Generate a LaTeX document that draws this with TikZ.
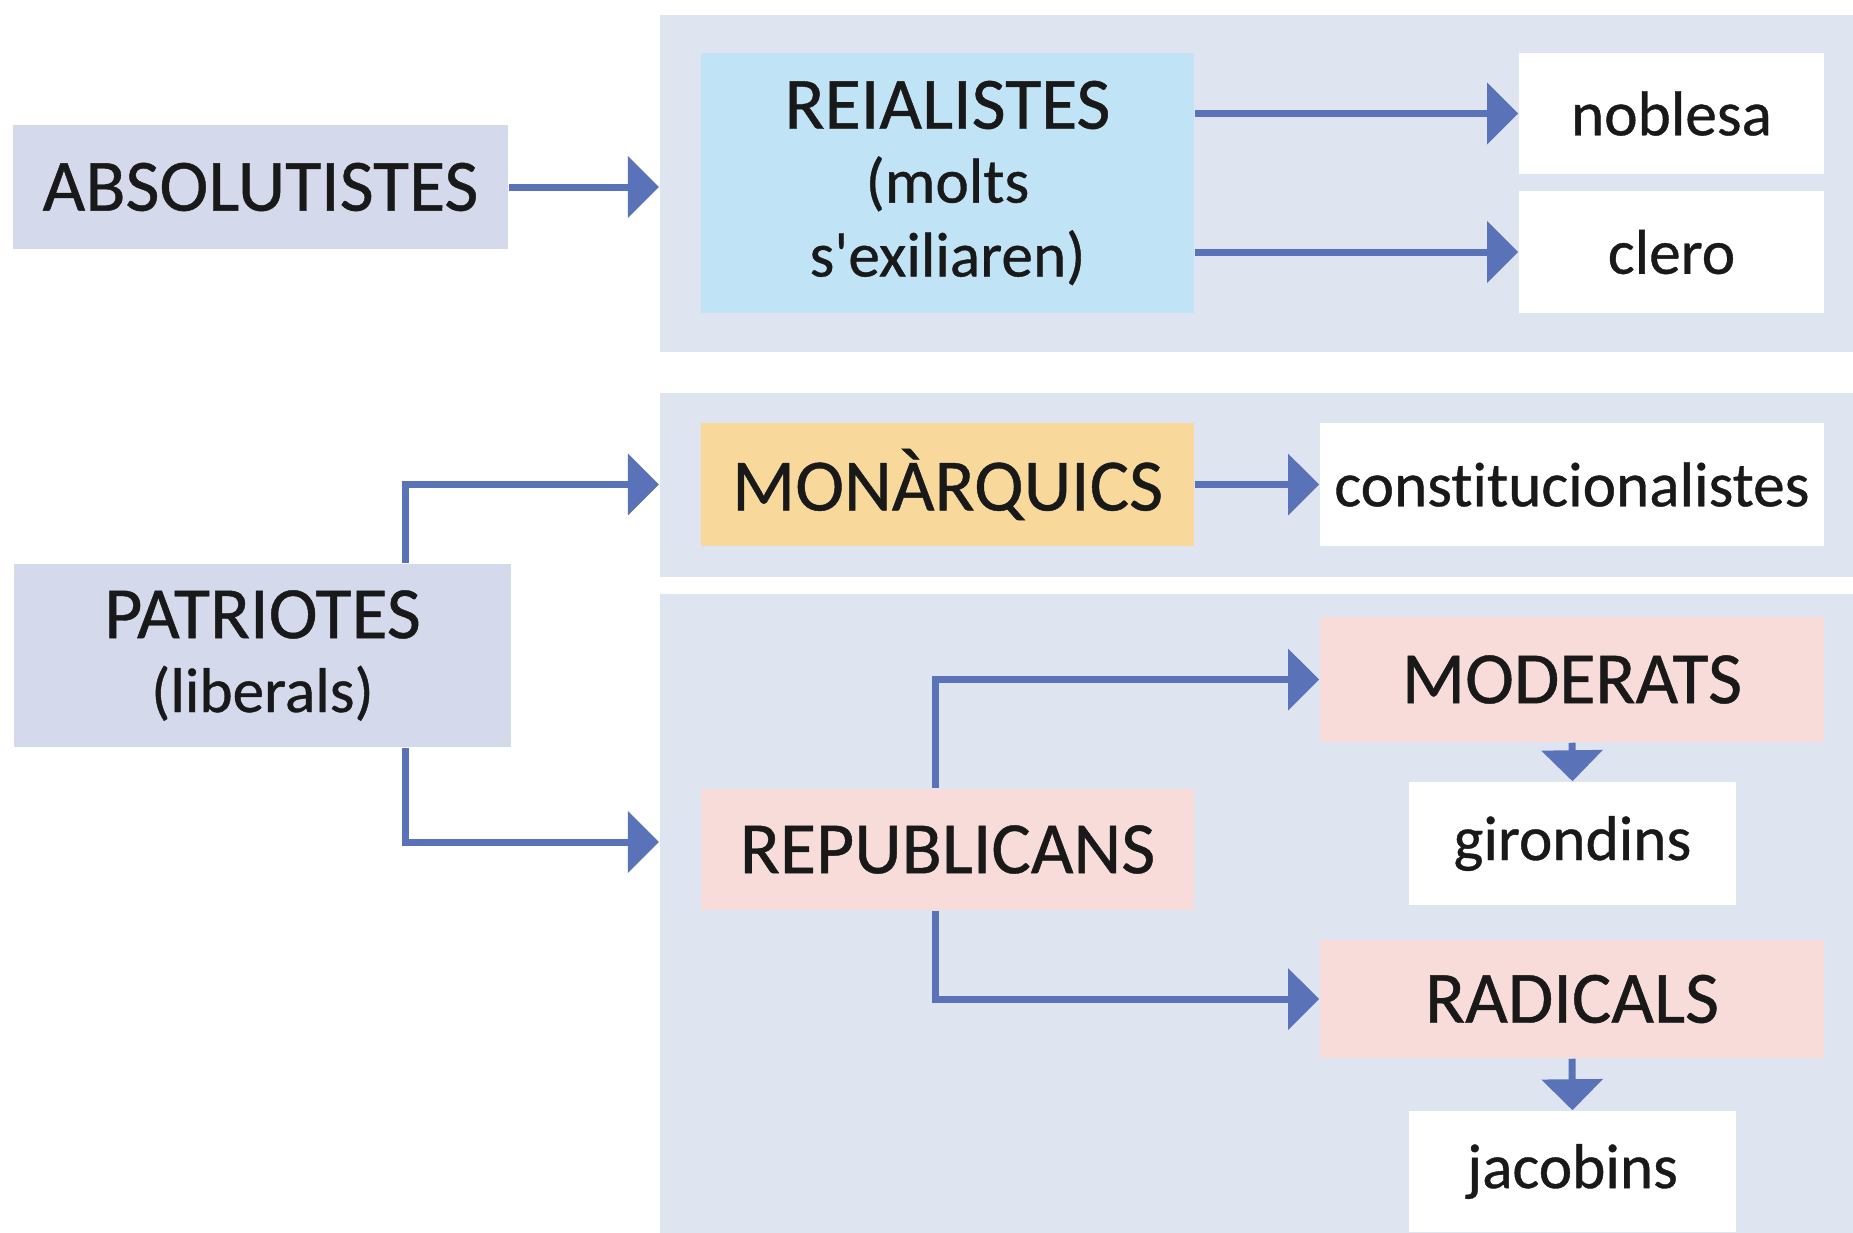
\documentclass[tikz,border=0pt]{standalone}
\usepackage{fontspec}
\setmainfont{Carlito}[Ligatures={TeX,NoCommon}, FakeBold=0.6, BoldFont=Carlito, BoldFeatures={FakeBold=0.6}]
\usetikzlibrary{arrows.meta,calc}

\definecolor{panelbg}{HTML}{DFE4F1}
\definecolor{groupbg}{HTML}{D4D9EC}
\definecolor{reialbg}{HTML}{C1E3F6}
\definecolor{monbg}{HTML}{F8D89B}
\definecolor{repbg}{HTML}{F8DCD9}
\definecolor{arrowblue}{HTML}{5A73B8}

\tikzset{
	panel/.style={fill=panelbg, anchor=north west, inner sep=0},
	box/.style={inner sep=0, align=center, text=black!90},
	bigtxt/.style={font=\fontsize{21}{26}\selectfont\bfseries},
	smalltxt/.style={font=\fontsize{18}{21}\selectfont\bfseries},
	arr/.style={draw=arrowblue, line width=0.07cm, -{Triangle[length=0.31cm,width=0.6cm]}}
}

\begin{document}
\begin{tikzpicture}[x=0.01cm, y=-0.01cm]
			%%%%% START %%%%%
			
			\useasboundingbox[fill=white] (0, 0) rectangle (1853, 1232);
			
			\node[panel, minimum width=11.94cm, minimum height=3.37cm] (pan1) at (659, 14) {};
			\node[panel, minimum width=11.94cm, minimum height=1.84cm] (pan2) at (659, 392) {};
			\node[panel, minimum width=11.94cm, minimum height=6.39cm] (pan3) at (659, 593) {};
			
			\node[box, bigtxt, fill=groupbg, minimum width=4.95cm, minimum height=1.24cm] (abs) at (260.5, 187) {ABSOLUTISTES};
			\node[box, smalltxt, fill=groupbg, minimum width=4.97cm, minimum height=1.83cm] (patr) at (262.5, 655.5) {{\fontsize{21}{21}\selectfont PATRIOTES}\\(liberals)};
			
			\node[box, smalltxt, fill=reialbg, minimum width=4.93cm, minimum height=2.60cm] (reial) at (947.5, 183) {{\fontsize{21}{21}\selectfont REIALISTES}\\(molts\\s\textquotesingle exiliaren)};
			\node[box, smalltxt, fill=white, minimum width=3.05cm, minimum height=1.21cm] (nob) at (1671.5, 113.5) {noblesa};
			\node[box, smalltxt, fill=white, minimum width=3.05cm, minimum height=1.22cm] (clero) at (1671.5, 252) {clero};
			
			\node[box, bigtxt, fill=monbg, minimum width=4.93cm, minimum height=1.23cm] (mon) at (947.5, 484.5) {MONÀRQUICS};
			\node[box, smalltxt, fill=white, minimum width=5.04cm, minimum height=1.23cm] (const) at (1572, 484.5) {constitucionalistes};
			
			\node[box, bigtxt, fill=repbg, minimum width=4.93cm, minimum height=1.21cm] (repub) at (947.5, 849.5) {REPUBLICANS};
			\node[box, bigtxt, fill=repbg, minimum width=5.04cm, minimum height=1.25cm] (moder) at (1572, 679.5) {MODERATS};
			\node[box, smalltxt, fill=white, minimum width=3.27cm, minimum height=1.23cm] (giron) at (1572.5, 843.5) {girondins};
			\node[box, bigtxt, fill=repbg, minimum width=5.04cm, minimum height=1.18cm] (rad) at (1572, 999) {RADICALS};
			\node[box, smalltxt, fill=white, minimum width=3.27cm, minimum height=1.21cm] (jacob) at (1572.5, 1171.5) {jacobins};
			
			\draw[arr] (abs.east) -- (abs.east -| pan1.west);
			\draw[arr] (reial.east |- nob) -- (nob.west);
			\draw[arr] (reial.east |- clero) -- (clero.west);
			
			\draw[arr] ([xshift=1.43cm]patr.north) |- (mon -| pan2.west);
			\draw[arr] ([xshift=1.43cm]patr.south) |- ([yshift=0.075cm]repub -| pan3.west);
			\draw[arr] (mon.east) -- (const.west);
			
			\draw[arr] ([xshift=-0.115cm]repub.north) |- (moder.west);
			\draw[arr] ([xshift=-0.115cm]repub.south) |- (rad.west);
			\draw[arr] (moder.south) -- (giron.north);
			\draw[arr] (rad.south) -- (jacob.north);
			
			%%%%% END %%%%%
\end{tikzpicture}
\end{document}
